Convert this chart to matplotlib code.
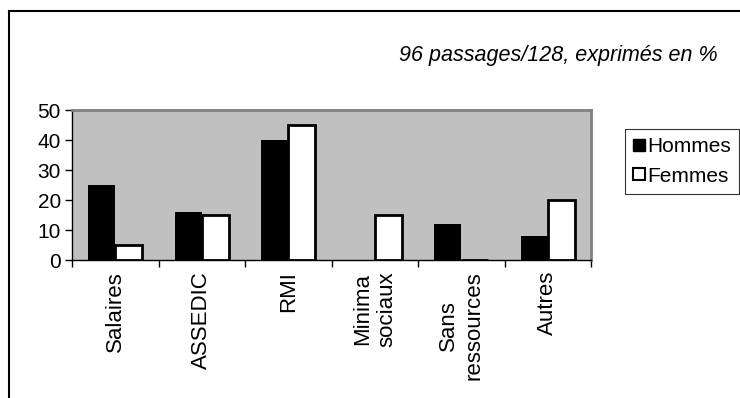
import numpy as np
import matplotlib.pyplot as plt
from matplotlib.lines import Line2D

plt.rcParams["font.family"] = ["Liberation Sans", "DejaVu Sans"]

categories = ["Salaires", "ASSEDIC", "RMI", "Minima\nsociaux", "Sans\nressources", "Autres"]
hommes = [25, 16, 40, 0, 12, 8]
femmes = [5, 15, 45, 15, 0, 20]
yticks = [0, 10, 20, 30, 40, 50]

fig = plt.figure(figsize=(7.4, 3.98), dpi=100)
ax = fig.add_axes([72 / 740, 1 - 260 / 398, 519 / 740, 150 / 398])
ax.set_facecolor("#c0c0c0")

x = np.arange(len(categories)) + 0.5
w = 0.31
ax.bar(x - w / 2, hommes, w, color="black", edgecolor="black", linewidth=0, label="Hommes")
ax.bar(x + w / 2, femmes, w, color="white", edgecolor="black", linewidth=2, label="Femmes")

ax.set_xlim(0, len(categories))
ax.set_ylim(0, 50)
ax.set_yticks(yticks)
ax.tick_params(axis="y", labelsize=15, length=5, width=1, pad=3)
ax.set_xticks(np.arange(len(categories) + 1))
ax.set_xticklabels([])
ax.set_xticks(x, minor=True)
ax.set_xticklabels(categories, minor=True, rotation=90, fontsize=16,
                   ha="center", va="top", multialignment="center",
                   linespacing=1.25)
ax.tick_params(axis="x", which="major", length=5, width=1)
ax.tick_params(axis="x", which="minor", length=0, pad=8)

for side in ["top", "right"]:
    ax.spines[side].set_color("#808080")
    ax.spines[side].set_linewidth(2)
for side in ["left", "bottom"]:
    ax.spines[side].set_color("black")
    ax.spines[side].set_linewidth(1)

handles = [
    Line2D([], [], marker="s", linestyle="none", markersize=9,
           markerfacecolor="black", markeredgecolor="black"),
    Line2D([], [], marker="s", linestyle="none", markersize=9,
           markerfacecolor="white", markeredgecolor="black", markeredgewidth=1.5),
]
leg = fig.legend(handles, ["Hommes", "Femmes"], loc="upper left",
                 bbox_to_anchor=(625 / 740, 1 - 129 / 398), fontsize=15,
                 frameon=True, fancybox=False, edgecolor="black",
                 handlelength=0.5, handletextpad=0.15, borderpad=0.4,
                 labelspacing=0.5, borderaxespad=0)
leg.get_frame().set_linewidth(0.8)

fig.text(718 / 740, 1 - 55 / 398, "96 passages/128, exprimés en %",
         ha="right", va="center", fontsize=15.5, style="italic")

# outer chart frame, open on the right and bottom edges
fig.add_artist(Line2D([8.5 / 740, 8.5 / 740], [0, 1 - 11 / 398],
                      transform=fig.transFigure, color="black", linewidth=1.5))
fig.add_artist(Line2D([8.5 / 740, 1], [1 - 11 / 398, 1 - 11 / 398],
                      transform=fig.transFigure, color="black", linewidth=1.5))

fig.savefig("out.png", dpi=100)
